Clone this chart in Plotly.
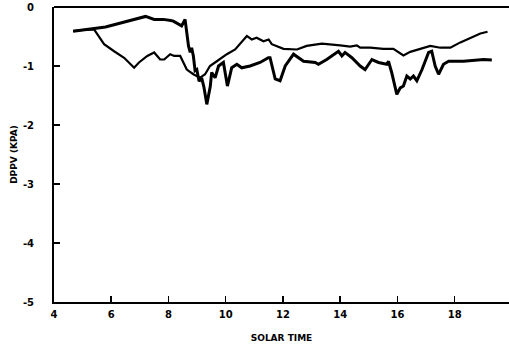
import plotly.graph_objects as go

# Series 1 (heavier trace): starts high, drops after ~8.6 h, then the lower trace
t1 = [4.67, 5.0, 5.4, 5.8, 6.33, 6.7, 7.03, 7.2, 7.5, 7.82, 8.08, 8.17, 8.46, 8.58,
      8.7, 8.76, 8.81, 8.87, 8.93, 8.99, 9.07, 9.16, 9.24, 9.34, 9.46, 9.51, 9.63,
      9.75, 9.92, 10.06, 10.21, 10.39, 10.56, 10.85, 11.2, 11.49, 11.55, 11.73, 11.9,
      12.08, 12.37, 12.72, 13.13, 13.24, 13.53, 13.94, 14.06, 14.17, 14.41, 14.7,
      14.87, 15.11, 15.34, 15.63, 15.69, 15.8, 15.98, 16.1, 16.21, 16.33, 16.45,
      16.56, 16.68, 16.86, 17.09, 17.2, 17.32, 17.44, 17.61, 17.79, 18.31, 18.66,
      19.01, 19.3]
v1 = [-0.41, -0.39, -0.37, -0.34, -0.27, -0.22, -0.17, -0.16, -0.21, -0.21, -0.23,
      -0.24, -0.32, -0.21, -0.66, -0.77, -0.69, -0.83, -1.08, -1.06, -1.26, -1.2,
      -1.36, -1.65, -1.35, -1.11, -1.2, -1.0, -0.94, -1.34, -1.03, -0.97, -1.03,
      -1.0, -0.94, -0.86, -0.86, -1.22, -1.25, -1.0, -0.8, -0.92, -0.94, -0.97,
      -0.89, -0.75, -0.83, -0.77, -0.86, -1.0, -1.06, -0.89, -0.94, -0.97, -0.92,
      -1.11, -1.48, -1.37, -1.34, -1.17, -1.22, -1.17, -1.25, -1.06, -0.77, -0.75,
      -1.0, -1.14, -0.97, -0.92, -0.92, -0.9, -0.89, -0.9]

# Series 2 (lighter trace): splits off near 5.4 h, dips, then becomes the upper trace
t2 = [4.67, 5.0, 5.4, 5.75, 6.1, 6.45, 6.8, 6.97, 7.26, 7.5, 7.71, 7.85, 8.06, 8.2,
      8.41, 8.64, 8.87, 9.1, 9.28, 9.45, 9.69, 10.04, 10.33, 10.56, 10.74, 10.91,
      11.08, 11.32, 11.5, 11.61, 11.79, 12.02, 12.49, 12.83, 13.36, 13.66, 14.0,
      14.35, 14.58, 14.7, 15.05, 15.51, 15.86, 16.21, 16.45, 16.8, 17.15, 17.5,
      17.85, 18.2, 18.55, 18.9, 19.15]
v2 = [-0.41, -0.39, -0.38, -0.63, -0.75, -0.86, -1.03, -0.94, -0.83, -0.77, -0.89,
      -0.89, -0.8, -0.83, -0.83, -1.06, -1.14, -1.2, -1.14, -1.0, -0.92, -0.8,
      -0.72, -0.6, -0.49, -0.55, -0.52, -0.58, -0.55, -0.63, -0.66, -0.71, -0.72,
      -0.66, -0.62, -0.63, -0.65, -0.67, -0.65, -0.69, -0.69, -0.71, -0.71, -0.82,
      -0.76, -0.71, -0.66, -0.69, -0.69, -0.6, -0.52, -0.45, -0.42]

x_ticks = [4, 6, 8, 10, 12, 14, 16, 18]
x_tick_labels = ["4", "6", "8", "10", "12", "14", "16", "18"]
y_ticks = [0, -1, -2, -3, -4, -5]
y_tick_labels = ["0", "-1", "-2", "-3", "-4", "-5"]

fig = go.Figure()
fig.add_trace(go.Scatter(x=t1, y=v1, mode="lines",
                         line=dict(color="black", width=3), showlegend=False))
fig.add_trace(go.Scatter(x=t2, y=v2, mode="lines",
                         line=dict(color="black", width=2.2), showlegend=False))

tickfont = dict(family="DejaVu Sans", size=10, color="black", weight="bold")
titlefont = dict(family="DejaVu Sans", size=9, color="black", weight="bold")

# top frame line (the reference has no right-hand frame line)
fig.add_shape(type="line", xref="paper", yref="paper", x0=0, x1=1, y0=1, y1=1,
              line=dict(color="black", width=2))

fig.update_layout(
    width=509, height=348,
    margin=dict(l=54, r=0, t=7, b=46),
    paper_bgcolor="white", plot_bgcolor="white",
    xaxis=dict(range=[4, 19.9], tickvals=x_ticks, ticktext=x_tick_labels,
               ticks="inside", ticklen=6, tickwidth=1.5, tickcolor="black",
               showline=True, linecolor="black", linewidth=2, mirror=False,
               showgrid=False, zeroline=False, tickfont=tickfont,
               ticklabelstandoff=2,
               title=dict(text="SOLAR TIME", standoff=16, font=titlefont)),
    yaxis=dict(range=[-5, 0], tickvals=y_ticks, ticktext=y_tick_labels,
               ticks="inside", ticklen=6, tickwidth=1.5, tickcolor="black",
               showline=True, linecolor="black", linewidth=2, mirror=False,
               showgrid=False, zeroline=False, tickfont=tickfont,
               ticklabelstandoff=16,
               title=dict(text="DPPV (KPA)", standoff=4, font=titlefont)),
    hovermode=False,
)

fig.write_html(
    "out.html",
    config={"displayModeBar": False, "staticPlot": True},
    post_script=("document.body.style.margin='0';"
                 "document.body.style.overflow='hidden';"
                 "document.documentElement.style.overflow='hidden';"),
)
